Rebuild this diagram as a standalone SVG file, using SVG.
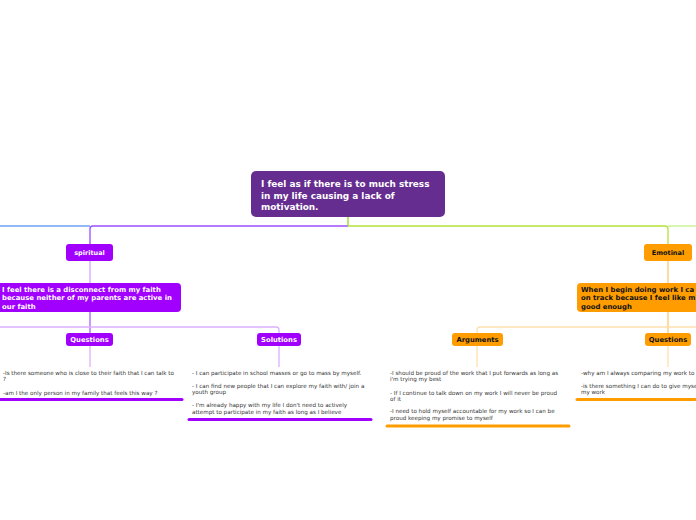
<svg xmlns="http://www.w3.org/2000/svg" width="696" height="520" viewBox="0 0 696 520">
<style>
.b{font-family:"DejaVu Sans",Verdana,sans-serif;font-weight:bold}
.w{fill:#ffffff}
.k{fill:#111111}
.t{font-family:"DejaVu Sans",Verdana,sans-serif;font-size:5.6px;fill:#333333}
.ln{fill:none;stroke-width:1.3}
.ul{fill:none;stroke-width:3;stroke-linecap:round}
</style>
<rect width="696" height="520" fill="#ffffff"/>
<g id="connectors">
<path class="ln" d="M0 226 H90" stroke="#6fa0f5" stroke-width="1.6"/>
<path class="ln" d="M348 226 H93 Q90 226 90 229 V244" stroke="#9a4dff" stroke-width="1.6"/>
<path class="ln" d="M348 217 V226" stroke="#8fd81e"/>
<path class="ln" d="M348 226 H665 Q668 226 668 229 V244" stroke="#b5e23a" stroke-width="1.6"/>
<path class="ln" d="M668 226 H696" stroke="#c3f087" stroke-width="1.6"/>
<path class="ln" d="M90 261 V283" stroke="#d6a3ff"/>
<path class="ln" d="M90 312 V333" stroke="#ad5cff"/>
<path class="ln" d="M0 327 H276 Q279 327 279 330 V333" stroke="#dcb0ff"/>
<path class="ln" d="M90 346 V367" stroke="#dcb0ff"/>
<path class="ln" d="M279 346 V367" stroke="#dcb0ff"/>
<path class="ln" d="M668 261 V283" stroke="#ffc870"/>
<path class="ln" d="M668 312 V333" stroke="#ffc870"/>
<path class="ln" d="M696 327 H480 Q477 327 477 330 V333" stroke="#ffdfae"/>
<path class="ln" d="M477 346 V367" stroke="#ffdfae"/>
<path class="ln" d="M668 346 V367" stroke="#ffdfae"/>
</g>
<g id="root">
<rect x="251" y="171" width="194" height="46" rx="5" fill="#662d91"/>
<text class="b w" font-size="8.9"><tspan x="261" y="187">I feel as if there is to much stress</tspan><tspan x="261" y="198.5">in my life causing a lack of</tspan><tspan x="261" y="210">motivation.</tspan></text>
</g>
<g id="spiritual">
<rect x="66" y="244" width="47" height="17" rx="3" fill="#a100ff"/>
<text class="b w" font-size="6.5" x="89.5" y="255" text-anchor="middle">spiritual</text>
</g>
<g id="disconnect">
<rect x="-6" y="283" width="187" height="29" rx="4" fill="#a100ff"/>
<text class="b w" font-size="6.9"><tspan x="2" y="291.5">I feel there is a disconnect from my faith</tspan><tspan x="2" y="300">because neither of my parents are active in</tspan><tspan x="2" y="308.5">our faith</tspan></text>
</g>
<g id="questions-left">
<rect x="66" y="333" width="47" height="13" rx="3" fill="#a100ff"/>
<text class="b w" font-size="6.8" x="89.5" y="342.4" text-anchor="middle">Questions</text>
</g>
<g id="solutions">
<rect x="257" y="333" width="44" height="13" rx="3" fill="#a100ff"/>
<text class="b w" font-size="6.8" x="279" y="342.4" text-anchor="middle">Solutions</text>
</g>
<g id="questions-left-text">
<text class="t"><tspan x="3" y="374.5">-Is there someone who is close to their faith that I can talk to</tspan><tspan x="3" y="381">?</tspan><tspan x="3" y="394.5">-am I the only person in my family that feels this way ?</tspan></text>
<path class="ul" d="M0 399.5 H182" stroke="#a100ff"/>
</g>
<g id="solutions-text">
<text class="t"><tspan x="192" y="374.5">- I can participate in school masses or go to mass by myself.</tspan><tspan x="192" y="387.5">- I can find new people that I can explore my faith with/ join a</tspan><tspan x="192" y="394">youth group</tspan><tspan x="192" y="407">- I'm already happy with my life I don't need to actively</tspan><tspan x="192" y="413.5">attempt to participate in my faith as long as I believe</tspan></text>
<path class="ul" d="M189 419.5 H371" stroke="#a100ff"/>
</g>
<g id="emotional">
<rect x="644" y="244" width="48" height="17" rx="3" fill="#ff9d00"/>
<text class="b k" font-size="6.5" x="668" y="255" text-anchor="middle">Emotinal</text>
</g>
<g id="work">
<rect x="577" y="283" width="130" height="29" rx="4" fill="#ff9d00"/>
<text class="b k" font-size="6.9"><tspan x="581" y="291.5">When I begin doing work I ca</tspan><tspan x="581" y="300">on track because I feel like m</tspan><tspan x="581" y="308.5">good enough</tspan></text>
</g>
<g id="arguments">
<rect x="452" y="333" width="51" height="13" rx="3" fill="#ff9d00"/>
<text class="b k" font-size="6.8" x="477.5" y="342.4" text-anchor="middle">Arguments</text>
</g>
<g id="questions-right">
<rect x="645" y="333" width="46" height="13" rx="3" fill="#ff9d00"/>
<text class="b k" font-size="6.8" x="668" y="342.4" text-anchor="middle">Questions</text>
</g>
<g id="arguments-text">
<text class="t"><tspan x="390" y="374.5">-I should be proud of the work that I put forwards as long as</tspan><tspan x="390" y="381">i'm trying my best</tspan><tspan x="390" y="394.5">- If I continue to talk down on my work I will never be proud</tspan><tspan x="390" y="401">of it</tspan><tspan x="390" y="413">-I need to hold myself accountable for my work so I can be</tspan><tspan x="390" y="419.5">proud keeping my promise to myself</tspan></text>
<path class="ul" d="M387 426 H569" stroke="#ff9d00"/>
</g>
<g id="questions-right-text">
<text class="t"><tspan x="581" y="374.5">-why am I always comparing my work to</tspan><tspan x="581" y="387.5">-is there something I can do to give myse</tspan><tspan x="581" y="394">my work</tspan></text>
<path class="ul" d="M577 399.5 H700" stroke="#ff9d00"/>
</g>
</svg>
